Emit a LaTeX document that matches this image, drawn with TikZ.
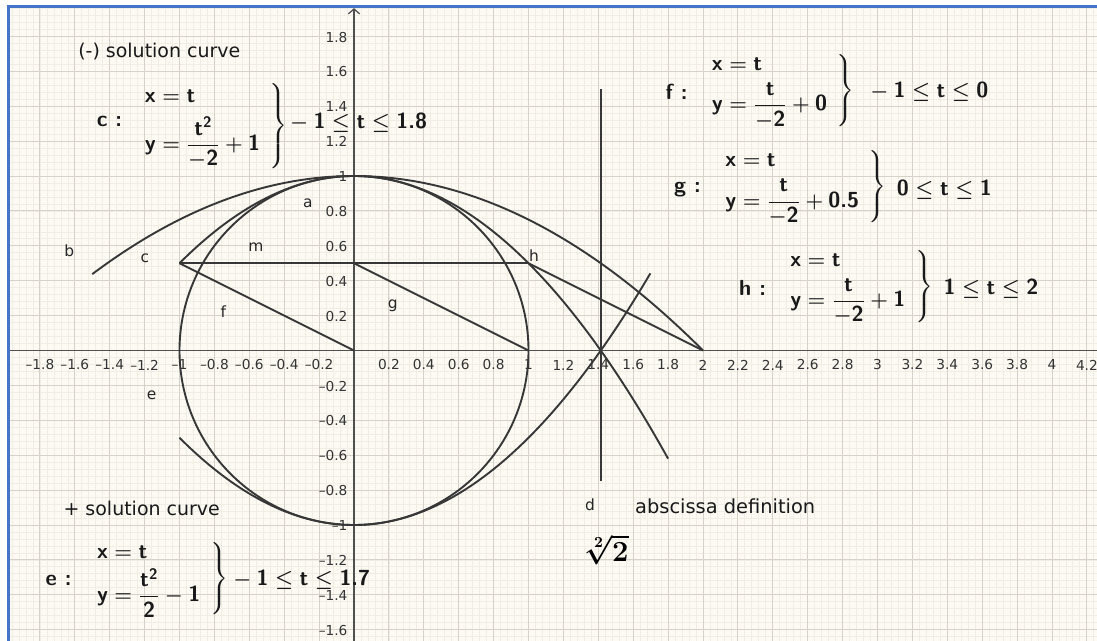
\documentclass[tikz,border=0pt]{standalone}
\usepackage{amsmath}
\usepackage{fontspec}
\usetikzlibrary{arrows.meta}
\newfontfamily\djfont{DejaVu Sans}
\newcommand\mv[1]{\textsf{\bfseries #1}}
\newcommand\sysC{\begin{array}{@{}l@{\hspace{7pt}}}\mv{x}=\mv{t}\\[5pt]\mv{y}=\dfrac{\mv{t}^{\mv{2}}}{-\mv{2}}+\mv{1}\end{array}}
\newcommand\sysE{\begin{array}{@{}l@{\hspace{7pt}}}\mv{x}=\mv{t}\\[1.5pt]\mv{y}=\dfrac{\mv{t}^{\mv{2}}}{\mv{2}}-\mv{1}\end{array}}
\newcommand\sysF{\begin{array}{@{}l@{\hspace{7pt}}}\mv{x}=\mv{t}\\[3.5pt]\mv{y}=\dfrac{\mv{t}}{-\mv{2}}+\mv{0}\end{array}}
\newcommand\sysG{\begin{array}{@{}l@{\hspace{7pt}}}\mv{x}=\mv{t}\\[3.5pt]\mv{y}=\dfrac{\mv{t}}{-\mv{2}}+\mv{0.5}\end{array}}
\newcommand\sysH{\begin{array}{@{}l@{\hspace{7pt}}}\mv{x}=\mv{t}\\[3pt]\mv{y}=\dfrac{\mv{t}}{-\mv{2}}+\mv{1}\end{array}}
\definecolor{bgc}{RGB}{252,250,243}
\definecolor{minorc}{RGB}{240,237,229}
\definecolor{majorc}{RGB}{214,210,201}
\definecolor{framec}{RGB}{70,116,200}
\definecolor{curvec}{RGB}{55,55,55}
\definecolor{axisc}{RGB}{80,80,80}
\tikzset{
  curve/.style={draw=curvec, line width=1.35pt},
  lbl/.style={font=\djfont\fontsize{11}{13}\selectfont, text=black!85, inner sep=0pt},
  tickl/.style={font=\djfont\fontsize{9.75}{11}\selectfont, text=black!80, inner sep=0pt},
  note/.style={font=\djfont\fontsize{13.5}{16}\selectfont, text=black!90, inner sep=0pt, anchor=west},
  eq/.style={font=\fontsize{15.5}{18.5}\selectfont\boldmath, text=black!90, inner sep=0pt},
}
\begin{document}
\begin{tikzpicture}[x=4.3625cm,y=4.3625cm]
\useasboundingbox (-2.02865,-1.66476) rectangle (4.25788,2.00860);
\fill[white] (-2.02865,-1.66476) rectangle (4.25788,2.00860);
\fill[bgc] (-1.9725,-1.66476) rectangle (4.25788,1.9656);
\begin{scope}
  \clip (-1.9725,-1.66476) rectangle (4.25788,1.9656);
  \draw[minorc, line width=0.5pt, step=0.04] (-2.04,-1.72) grid (4.28,2.0);
  \draw[majorc, line width=0.7pt, step=0.2] (-2.2,-1.8) grid (4.4,2.0);
\end{scope}
\draw[framec, line width=1.8pt] (-1.9799,-1.66476) -- (-1.9799,1.9725) -- (4.25788,1.9725);
% axes
\draw[axisc, line width=0.9pt] (-1.9725,0) -- (4.25788,0);
\draw[axisc, line width=0.9pt, -{Straight Barb[length=3.5pt,width=8pt]}] (0,-1.66476) -- (0,1.962);
% tick labels x
\foreach \v/\t in {-1.8/{–1.8},-1.6/{–1.6},-1.4/{–1.4},-1.2/{–1.2},-1/{–1},-0.8/{–0.8},-0.6/{–0.6},-0.4/{–0.4},-0.2/{–0.2},0.2/0.2,0.4/0.4,0.6/0.6,0.8/0.8,1/1,1.2/1.2,1.4/1.4,1.6/1.6,1.8/1.8,2/2,2.2/2.2,2.4/2.4,2.6/2.6,2.8/2.8,3/3,3.2/3.2,3.4/3.4,3.6/3.6,3.8/3.8,4/4,4.2/4.2}
  \node[tickl] at (\v,-0.083) {\t};
% tick labels y
\foreach \v/\t in {1.8/1.8,1.6/1.6,1.4/1.4,1.2/1.2,1/1,0.8/0.8,0.6/0.6,0.4/0.4,0.2/0.2,-0.2/{–0.2},-0.4/{–0.4},-0.6/{–0.6},-0.8/{–0.8},-1/{–1},-1.2/{–1.2},-1.4/{–1.4},-1.6/{–1.6}}
  \node[tickl, anchor=east] at (-0.036,\v-0.004) {\t};
% key points
\coordinate (O) at (0,0);
\coordinate (P) at (-1,0.5);
\coordinate (Q) at (0,0.5);
\coordinate (R) at (1,0.5);
\coordinate (S) at (1,0);
\coordinate (T) at (2,0);
\coordinate (D1) at ({sqrt(2)},-0.75);
\coordinate (D2) at ({sqrt(2)},1.5);
% curves
\draw[curve] (O) circle (1);
\draw[curve, domain=-1.5:2, samples=120, smooth] plot (\x,{1-\x*\x/4});
\draw[curve, domain=-1:1.8, samples=120, smooth] plot (\x,{1-\x*\x/2});
\draw[curve, domain=-1:1.7, samples=120, smooth] plot (\x,{\x*\x/2-1});
\draw[curve] (P) -- (R);
\draw[curve] (P) -- (O);
\draw[curve] (Q) -- (S);
\draw[curve] (R) -- (T);
\draw[curve] (D1) -- (D2);
% object labels
\node[lbl] (la) at (-0.265,0.842) {a};
\node[lbl] (lb) at (-1.631,0.572) {b};
\node[lbl] (lc) at (-1.198,0.528) {c};
\node[lbl] (lm) at (-0.562,0.591) {m};
\node[lbl] (lh) at (1.032,0.542) {h};
\node[lbl] (lf) at (-0.749,0.222) {f};
\node[lbl] (lg) at (0.222,0.255) {g};
\node[lbl] (le) at (-1.159,-0.255) {e};
\node[lbl] (ld) at (1.352,-0.885) {d};
% notes
\node[note] (n1) at (-1.5817,1.7106) {(-) solution curve};
\node[note] (n2) at (-1.666,-0.904) {+ solution curve};
\node[note, font=\djfont\fontsize{13.8}{16}\selectfont] (n3) at (1.610,-0.895) {abscissa definition};
\node[inner sep=0pt, font=\fontsize{21}{24}\selectfont\boldmath] (rt) at (1.448,-1.143) {$\sqrt[2]{2}$};
% c block
\node[eq] (clab) at (-1.401,1.310) {\mv{c :}};
\node[eq, anchor=west] (csys) at (-1.209,1.286) {$\left.\sysC\right\}$};
\node[eq, anchor=west] (crng) at (-0.367,1.304) {$-\mskip\medmuskip\mv{1}\le\mv{t}\le\mv{1.8}$};
% e block
\node[eq] (elab) at (-1.693,-1.315) {\mv{e :}};
\node[eq, anchor=west] (esys) at (-1.484,-1.308) {$\left.\sysE\right\}$};
\node[eq, anchor=west] (erng) at (-0.693,-1.315) {$-\mskip\medmuskip\mv{1}\le\mv{t}\le\mv{1.7}$};
% f block
\node[eq] (flab) at (1.849,1.483) {\mv{f :}};
\node[eq, anchor=west] (fsys) at (2.040,1.490) {$\left.\sysF\right\}$};
\node[eq, anchor=west] (frng) at (2.957,1.483) {$-\mskip\medmuskip\mv{1}\le\mv{t}\le\mv{0}$};
% g block
\node[eq] (glab) at (1.911,0.920) {\mv{g :}};
\node[eq, anchor=west] (gsys) at (2.117,0.939) {$\left.\sysG\right\}$};
\node[eq, anchor=west] (grng) at (3.110,0.920) {$\mv{0}\le\mv{t}\le\mv{1}$};
% h block
\node[eq] (hlab) at (2.284,0.356) {\mv{h :}};
\node[eq, anchor=west] (hsys) at (2.489,0.367) {$\left.\sysH\right\}$};
\node[eq, anchor=west] (hrng) at (3.377,0.356) {$\mv{1}\le\mv{t}\le\mv{2}$};
\end{tikzpicture}
\end{document}
